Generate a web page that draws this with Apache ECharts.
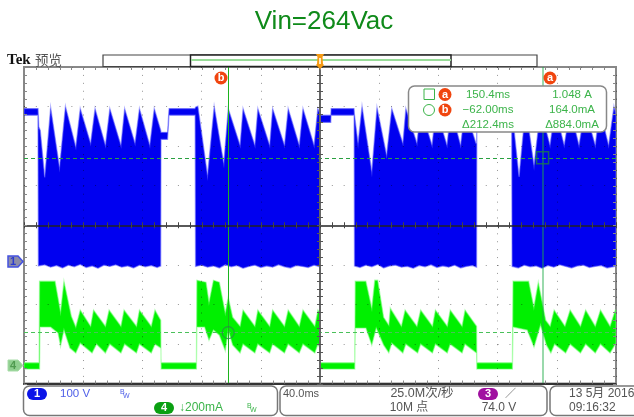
<!DOCTYPE html>
<html><head><meta charset="utf-8">
<style>html,body{margin:0;padding:0;background:#fff}#c{width:634px;height:417px}</style>
<script src="https://cdn.jsdelivr.net/npm/echarts@6/dist/echarts.min.js"></script>
</head><body><div id="c"></div>
<script>
// Time in ms, channel 1 in volts, channel 4 in milliamps.
const ch1High = [[-200,386],[-190.5,386],[-190,340],[-189,331],[-186,212],[-182,389],[-176,237],[-172,392],[-165,289],[-162,386],[-155,298],[-152,386],[-145,293],[-142,386],[-134.5,293],[-132,386],[-125,298],[-122,386],[-115,293],[-112,386],[-107.6,331],[-107.4,326],[-103,326],[-102,386],[-84.5,386],[-84,390],[-82.5,392],[-76,217],[-71.5,392],[-65,247],[-62,386],[-54,293],[-52,386],[-44,293],[-42,386],[-34,293],[-32,386],[-24,293],[-21.5,386],[-14,293],[-11.5,386],[-4,293],[-1.5,386],[-0.2,375],[0.1,369],[7.3,369],[7.5,386],[23,386],[23.3,370],[25.7,298],[28.4,392],[35,226],[38.5,389],[45,268],[48.5,386],[56,298],[58,386],[65.5,298],[68,386],[75.7,293],[78.4,386],[85.8,293],[88.5,386],[95,293],[98,386],[105.4,298],[105.8,298],[106,369],[129,369],[129.5,386],[129.8,380],[134.5,213],[139,392],[144.6,242],[149,386],[155.4,293],[158.8,386],[165,293],[169,386],[175,293],[179,386],[186,293],[189,386],[195,293],[198.6,392],[200,370]];
const ch1Low = [[-200,369],[-190.6,369],[-190.3,-12],[-186,-9],[-182,-15],[-178,-11],[-174,-17],[-170,-10],[-166,-14],[-162,-8],[-158,-16],[-154,-12],[-150,-18],[-146,-10],[-142,-13],[-138,-9],[-134,-15],[-130,-12],[-126,-17],[-122,-10],[-118,-14],[-114,-11],[-110,-16],[-107.6,-12],[-107.4,308],[-103,308],[-102,369],[-84.4,369],[-84.1,-13],[-80,-10],[-76,-15],[-72,-12],[-68,-17],[-64,-9],[-60,-14],[-56,-11],[-52,-18],[-48,-13],[-44,-10],[-40,-16],[-36,-12],[-32,-15],[-28,-9],[-24,-14],[-20,-17],[-16,-11],[-12,-13],[-8,-16],[-4,-10],[-0.2,-14],[0.1,351],[7.3,351],[7.5,369],[23,369],[23.3,-12],[27,-16],[31,-10],[35,-14],[39,-8],[43,-17],[47,-12],[51,-10],[55,-15],[59,-13],[63,-18],[67,-11],[71,-14],[75,-9],[79,-16],[83,-12],[87,-15],[91,-10],[95,-17],[99,-13],[103,-11],[105.8,-15],[106,351],[129,351],[129.5,369],[129.8,-13],[134,-17],[138,-10],[142,-14],[146,-12],[150,-18],[154,-11],[158,-15],[162,-9],[166,-13],[170,-17],[174,-12],[178,-10],[182,-16],[186,-13],[190,-11],[194,-17],[198,-14],[200,-12]];
const ch4High = [[-200,12],[-189.8,12],[-189.5,424],[-179,424],[-175.3,269],[-173,424],[-168,247],[-165,193],[-162,278],[-155,197],[-153,278],[-145,197],[-142.5,278],[-134.5,197],[-132.4,278],[-124,197],[-122,278],[-114,197],[-111.5,278],[-107.6,227],[-107.4,12],[-83.5,12],[-83.2,429],[-77,419],[-75,318],[-72,429],[-68,419],[-64,263],[-62,343],[-59,242],[-54,197],[-52,278],[-44,197],[-42,278],[-34,197],[-32,278],[-24,197],[-21.5,278],[-14,197],[-11.5,278],[-3.5,197],[-1.4,278],[0,263],[0.2,12],[23.5,12],[23.8,424],[31,424],[35,288],[37,429],[39,429],[43,242],[46.5,202],[47.5,288],[55,197],[57.5,278],[65.5,197],[68,278],[76,197],[78,278],[86,197],[88,278],[96,197],[98,278],[105.8,197],[106,12],[130,12],[130.4,424],[141,424],[144.5,293],[147.5,419],[152.5,227],[155.5,197],[158.2,278],[165.5,197],[169,278],[176,197],[179.5,278],[186,197],[189.5,278],[196,197],[199.5,278],[200,278]];
const ch4Low = [[-200,-20],[-189.5,-20],[-189.2,192],[-182,192],[-177,162],[-175.3,96],[-173,177],[-169,86],[-165,61],[-162,111],[-154,61],[-151,106],[-145,61],[-142,106],[-134.5,61],[-132,106],[-124,61],[-122,106],[-114,61],[-111.5,106],[-107.5,86],[-107.3,-20],[-83.5,-20],[-83.2,192],[-78,192],[-75,126],[-72,177],[-68,151],[-64,72],[-62,177],[-59,101],[-54,61],[-52,106],[-44,61],[-42,106],[-34,61],[-32,106],[-24,61],[-21.5,106],[-14,61],[-11.5,106],[-3.5,61],[-1.4,106],[0,86],[0.2,-20],[23.5,-20],[23.8,187],[31,187],[35,101],[38,187],[43,101],[46.5,62],[48.5,111],[56,61],[58,106],[66,61],[68,106],[76,61],[78,106],[86,61],[88,106],[96,61],[98,106],[105.8,61],[106,-20],[130,-20],[130.4,192],[140,177],[144.6,91],[149,202],[153,101],[156,61],[158.5,106],[166,61],[169,106],[176,61],[179.5,106],[186,61],[189.5,106],[196,61],[199.5,106],[200,100]];
const cursorA = [150.4, 1048];
const cursorB = [-62, 164];
const readoutRows = [["150.4ms","1.048 A"],["−62.00ms","164.0mA"],["Δ212.4ms","Δ884.0mA"]];
const xTickMs = Array.from({length:51},(_,i)=>-200+i*8);
const yTickDiv = Array.from({length:41},(_,i)=>-4+i*0.2);

const BLUE='#0000f0', GREEN='#00f000', TXT='#3cb44a', FONT='"Liberation Sans",Arial,sans-serif', CJK='"Liberation Sans","Noto Sans CJK SC",sans-serif';

function band(high, low, fill, edge){
  return function(params, api){
    if(params.dataIndex!==0) return null;
    const pts = high.map(p=>api.coord(p)).concat(low.slice().reverse().map(p=>api.coord(p)));
    return {type:'polygon',shape:{points:pts},style:{fill:fill,stroke:edge,lineWidth:1.3}};
  };
}
function tickLine(x1,y1,x2,y2,c){
  return {type:'line',shape:{x1,y1,x2,y2},style:{stroke:c,lineWidth:1}};
}
function xTicks(params, api){
  const x = Math.round(api.coord([api.value(0),0])[0])+0.5, c = params.coordSys;
  const mid = api.coord([0,0])[1];
  return {type:'group',children:[
    tickLine(x,c.y,x,c.y+3,'#888'), tickLine(x,c.y+c.height-3,x,c.y+c.height,'#888'), tickLine(x,mid-3,x,mid+3,'#444')
  ]};
}
function yTicks(params, api){
  const y = Math.round(api.coord([0,api.value(1)])[1])+0.5, c = params.coordSys;
  const mid = api.coord([0,0])[0];
  return {type:'group',children:[
    tickLine(c.x,y,c.x+3,y,'#888'), tickLine(c.x+c.width-3,y,c.x+c.width,y,'#888'), tickLine(mid-3,y,mid+3,y,'#555')
  ]};
}
function T(text,x,y,color,size,align,extra){
  return Object.assign({type:'text',z:100,style:{text:text,x:x,y:y,fill:color,font:(size||11)+'px '+CJK,textAlign:align||'left',textVerticalAlign:'middle'}},extra||{});
}
function pill(cx,cy,w,h,color,label){
  return [
    {type:'rect',z:100,shape:{x:cx-w/2,y:cy-h/2,width:w,height:h,r:h/2},style:{fill:color}},
    {type:'text',z:101,style:{text:label,x:cx,y:cy,fill:'#fff',font:'bold 11px '+FONT,textAlign:'center',textVerticalAlign:'middle'}}
  ];
}
function tag(cx,cy,label){
  return [
    {type:'circle',z:101,shape:{cx:cx,cy:cy,r:6.5},style:{fill:'#f0450f'}},
    {type:'text',z:102,style:{text:label,x:cx,y:cy,fill:'#fff',font:'bold 11px '+FONT,textAlign:'center',textVerticalAlign:'middle'}}
  ];
}
function panel(x,y,w,h){
  return {type:'rect',z:100,shape:{x:x,y:y,width:w,height:h,r:6},style:{fill:'#fff',stroke:'#777',lineWidth:1.5}};
}

const chrome = [
  T('Vin=264Vac',324,22,'#0f8a1a',26,'center'),
  {type:'text',z:100,style:{text:'Tek',x:7,y:60,fill:'#111',font:'bold 15px "Liberation Serif",serif',textVerticalAlign:'middle'}},
  {type:'text',z:100,style:{text:'预览',x:35,y:60,fill:'#555',font:'13.5px "Noto Sans CJK SC",sans-serif',textVerticalAlign:'middle'}},
  // record bar
  {type:'rect',z:100,shape:{x:103,y:55,width:434,height:11.5},style:{fill:'#fff',stroke:'#444',lineWidth:1.2}},
  {type:'rect',z:100,shape:{x:190.5,y:55,width:260.5,height:11.5},style:{fill:'#fff',stroke:'#222',lineWidth:1.5}},
  {type:'line',z:101,shape:{x1:191,y1:60,x2:451,y2:60},style:{stroke:'#98dc98',lineWidth:2}},
  {type:'polygon',z:102,shape:{points:[[316,54],[324,54],[322.5,57],[323,64],[324,65],[320,69],[316,65],[317,64],[317.5,57]]},style:{fill:'#f59a12'}},
  {type:'rect',z:103,shape:{x:319,y:58,width:2,height:6},style:{fill:'#ffe9c0'}},
  // channel markers
  {type:'polygon',z:100,shape:{points:[[8,256],[18,256],[23,261.5],[18,267],[8,267]]},style:{fill:'#8c8ca8',stroke:'#4452e0',lineWidth:1.5}},
  {type:'text',z:101,style:{text:'1',x:13,y:262,fill:'#2a3ad0',font:'bold 11px '+FONT,textAlign:'center',textVerticalAlign:'middle'}},
  {type:'polygon',z:100,shape:{points:[[8,360],[18,360],[23,365.5],[18,371],[8,371]]},style:{fill:'#8fcf8f',stroke:'#a8dca8',lineWidth:1}},
  {type:'text',z:101,style:{text:'4',x:13,y:366,fill:'#4f9a4f',font:'bold 11px '+FONT,textAlign:'center',textVerticalAlign:'middle'}},
  // cursor tags
  ...tag(221,78,'b'), ...tag(550,78,'a'),
  // readout
  {type:'rect',z:100,shape:{x:408.5,y:86,width:198,height:46,r:6},style:{fill:'#fff',stroke:'#888',lineWidth:1.5}},
  {type:'rect',z:101,shape:{x:424,y:89,width:10.5,height:10.5},style:{fill:'#fff',stroke:TXT,lineWidth:1}},
  {type:'circle',z:101,shape:{cx:429,cy:110,r:5.5},style:{fill:'#fff',stroke:TXT,lineWidth:1}},
  ...tag(445,94.5,'a'), ...tag(445,110,'b'),
  ...readoutRows.flatMap((r,i)=>[
    T(r[0],488,94.5+i*15.3,TXT,11.5,'center',{z:101}),
    T(r[1],572,94.5+i*15.3,TXT,11.5,'center',{z:101})
  ]),
  // bottom panels
  panel(23.5,386,254,29.5),
  panel(280,386,267,29.5),
  panel(550,386,100,29.5),
  ...pill(37,394,20,12,'#0b14e8','1'),
  T('100 V',60,394,'#5060e8',11.5),
  T('B',120,392,'#5060e8',7), T('W',123,396,'#5060e8',7),
  ...pill(164,408,20,12,'#0aa012','4'),
  T('↓200mA',179,408,TXT,12),
  T('B',247,406,TXT,7), T('W',250,410,TXT,7),
  T('40.0ms',283,394,'#555',11),
  T('25.0M次/秒',422,394,'#555',12.5,'center'),
  T('10M 点',409,408,'#555',12,'center'),
  ...pill(488,394,20,12,'#a010a0','3'),
  T('／',505,394,'#555',11),
  T('74.0 V',499,408,'#555',12,'center'),
  T('13 5月 2016',569,394,'#555',12,'left',{z:101}),
  T('09:16:32',569,408,'#555',12,'left',{z:101})
];

const chart = echarts.init(document.getElementById('c'),null,{renderer:'canvas'});
chart.setOption({
  animation:false,
  grid:{left:24,right:18,top:67,bottom:33.5,show:true,borderColor:'#888',borderWidth:2,backgroundColor:'#fff'},
  xAxis:{type:'value',min:-200,max:200,interval:40,z:6,
    axisLabel:{show:false},axisTick:{show:false},
    axisLine:{show:true,onZero:false,lineStyle:{color:'#333',width:2}},
    splitLine:{show:true,lineStyle:{color:'rgba(0,0,0,0.42)',width:1,type:[1,6.92]}}},
  yAxis:[
    {type:'value',min:-4,max:4,interval:1,z:6,axisLabel:{show:false},axisTick:{show:false},axisLine:{show:false},
      splitLine:{show:true,lineStyle:{color:'rgba(0,0,0,0.42)',width:1,type:[1,10.84]}}},
    {type:'value',min:-309,max:491,show:false,splitLine:{show:false}},
    {type:'value',min:-93,max:1507,show:false,splitLine:{show:false}}
  ],
  graphic:{elements:chrome},
  series:[
    {type:'custom',name:'Ch1',yAxisIndex:1,z:2,clip:true,renderItem:band(ch1High,ch1Low,BLUE,'rgba(110,110,255,0.55)'),data:ch1High,encode:{x:0,y:1}},
    {type:'custom',name:'Ch4',yAxisIndex:2,z:3,clip:true,renderItem:band(ch4High,ch4Low,GREEN,'rgba(130,255,130,0.55)'),data:ch4High,encode:{x:0,y:1}},
    {type:'custom',name:'xTicks',yAxisIndex:0,z:7,renderItem:xTicks,data:xTickMs.map(v=>[v,0]),encode:{x:0,y:1},
      markLine:{silent:true,symbol:'none',label:{show:false},z:7,animation:false,
        data:[{yAxis:0,lineStyle:{color:'#222',width:1.5,type:'solid'}},{xAxis:0,lineStyle:{color:'#666',width:2,type:'solid'}}]}},
    {type:'custom',name:'yTicks',yAxisIndex:0,z:7,renderItem:yTicks,data:yTickDiv.map(v=>[0,v]),encode:{x:0,y:1}},
    {type:'scatter',name:'Cursors',yAxisIndex:2,z:8,clip:false,silent:true,
      data:[{value:cursorA,symbol:'rect',symbolSize:12,itemStyle:{color:'rgba(0,0,0,0)',borderColor:'#1c7a48',borderWidth:1.5}},
            {value:cursorB,symbol:'circle',symbolSize:12,itemStyle:{color:'rgba(0,0,0,0)',borderColor:'#2a8a4a',borderWidth:1.2}}],
      markLine:{silent:true,symbol:'none',label:{show:false},animation:false,
        data:[
          {yAxis:cursorA[1],lineStyle:{color:'#2aa040',width:1,type:[4,3]}},
          {yAxis:cursorB[1],lineStyle:{color:'#4ac05a',width:1,type:[4,3]}},
          {xAxis:cursorA[0],lineStyle:{color:'rgba(30,170,70,0.45)',width:2,type:'solid'}},
          {xAxis:cursorB[0],lineStyle:{color:'#1db31d',width:1,type:'solid'}}
        ]}}
  ]
});
</script></body></html>
